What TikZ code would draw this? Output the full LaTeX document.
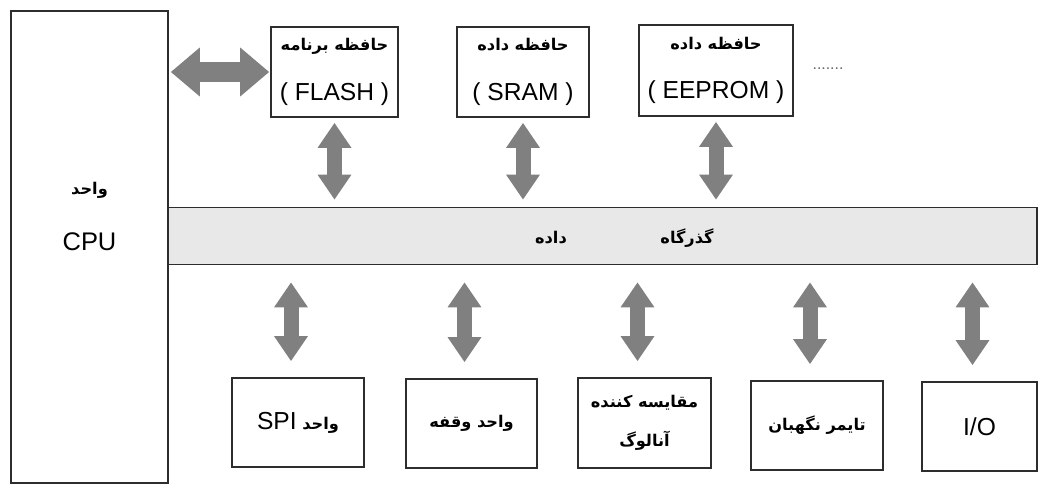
\documentclass[tikz,border=0pt]{standalone}
\usepackage{fontspec}
\setmainfont{Liberation Sans}
\newfontfamily\arabicfont[Script=Arabic]{DejaVu Sans}
\TeXXeTstate=1
\usetikzlibrary{arrows.meta, positioning}
\definecolor{arrowgray}{RGB}{128, 128, 128}
\definecolor{busgray}{RGB}{232, 232, 232}
\definecolor{edgegray}{RGB}{45, 45, 45}
\newcommand{\fatext}[1]{{\arabicfont\bfseries\fontsize{9.2}{11}\selectfont\beginR #1\endR}}

\begin{document}
\begin{tikzpicture}[x=0.02cm, y=-0.02cm,
    unitbox/.style={draw=edgegray, line width=0.9pt, fill=white, align=center, inner sep=0pt, font=\fontsize{14}{16}\selectfont},
    tallarrow/.style={draw=arrowgray, line width=0.3cm, arrows={Triangle[width=0.64cm, length=0.5cm]-Triangle[width=0.64cm, length=0.5cm]}},
    widearrow/.style={draw=arrowgray, line width=0.4cm, arrows={Triangle[width=0.94cm, length=0.58cm]-Triangle[width=0.94cm, length=0.58cm]}}]
      \useasboundingbox (0,0) rectangle (1049,486);
      % cpu and memories
      \node[unitbox, minimum width=3.14cm, minimum height=9.44cm] (cpu) at (89.5,247) {};
      \node[font=\fontsize{14}{16}\selectfont] (cpuunit) at (89.5,190) {\fatext{واحد}};
      \node[font=\fontsize{14.5}{16}\selectfont] (cpuname) at (89.5,242) {CPU};
      \node[unitbox, minimum width=2.54cm, minimum height=1.8cm] (flash) at (334.5,72) {\fatext{حافظه برنامه}\\[12pt]( FLASH )};
      \node[unitbox, minimum width=2.64cm, minimum height=1.8cm] (sram) at (523,72) {\fatext{حافظه داده}\\[12pt]( SRAM )};
      \node[unitbox, minimum width=3.08cm, minimum height=1.82cm] (eeprom) at (716,70.5) {\fatext{حافظه داده}\\[12pt]( EEPROM )};
      \node[font=\fontsize{9}{10}\selectfont, text=black!60] (more) at (828,69) {.......};
      % data bus
      \node[draw=edgegray, line width=0.9pt, fill=busgray, minimum width=17.38cm, minimum height=1.14cm, inner sep=0pt] (bus) at (602.5,236) {};
      \node (busname) at (687,238) {\fatext{گذرگاه}};
      \node (busdata) at (551,238) {\fatext{داده}};
      % peripherals
      \node[unitbox, minimum width=2.64cm, minimum height=1.78cm] (spi) at (298,422.5) {\fatext{واحد \beginL\fontsize{14}{16}\selectfont\normalfont SPI\endL}};
      \node[unitbox, minimum width=2.62cm, minimum height=1.78cm] (intr) at (471.5,423.5) {\fatext{واحد وقفه}};
      \node[unitbox, minimum width=2.66cm, minimum height=1.8cm] (comp) at (644.5,423) {\fatext{مقایسه کننده}\\[6pt]\fatext{آنالوگ}};
      \node[unitbox, minimum width=2.64cm, minimum height=1.78cm] (wdt) at (817,425.5) {\fatext{تایمر نگهبان}};
      \node[unitbox, minimum width=2.3cm, minimum height=1.78cm] (io) at (979.5,426.5) {I/O};
      % links
      \draw[widearrow, shorten <=0.04cm, shorten >=0.02cm] (cpu.east |- flash.west) -- (flash.west);
      \foreach \mem in {flash, sram, eeprom}
        \draw[tallarrow, shorten <=0.1cm, shorten >=0.14cm] (\mem.south) -- (\mem.south |- bus.north);
      \foreach \dev in {spi, intr, comp, wdt, io}
        \draw[tallarrow, shorten <=0.34cm, shorten >=0.32cm] ([xshift=-0.14cm]\dev.north |- bus.south) -- ([xshift=-0.14cm]\dev.north);
\end{tikzpicture}
\end{document}
